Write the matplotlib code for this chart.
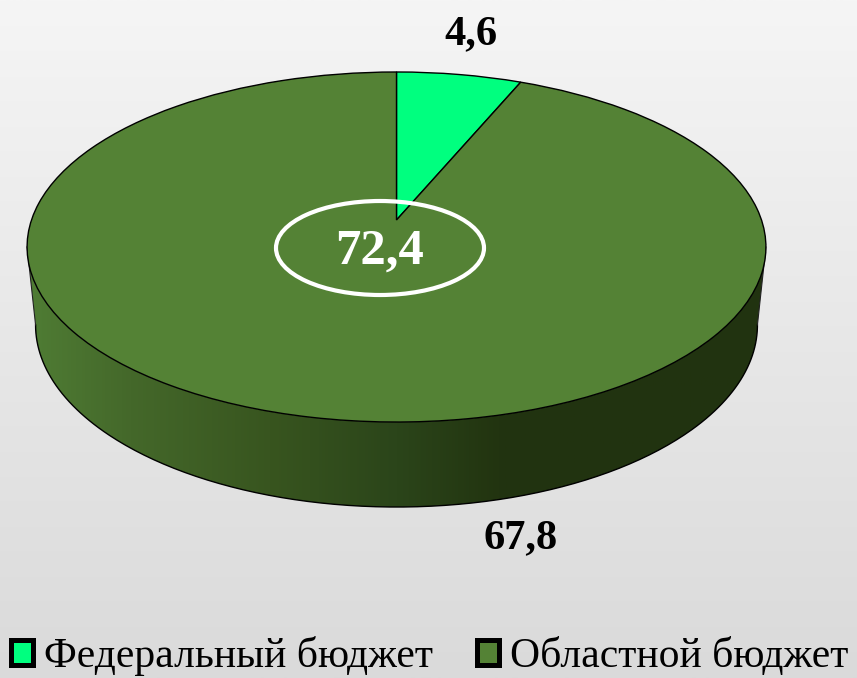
import numpy as np
import matplotlib
matplotlib.use("Agg")
import matplotlib.pyplot as plt
from matplotlib.patches import Ellipse, Patch, Polygon
from matplotlib.transforms import Transform
from matplotlib.colors import LinearSegmentedColormap

categories = ["Федеральный бюджет", "Областной бюджет"]
values = [4.6, 67.8]
total_label = "72,4"
value_labels = ["4,6", "67,8"]
colors = ["#00FF7F", "#548235"]

W, H = 857, 678
plt.rcParams["font.family"] = ["Liberation Serif", "DejaVu Serif"]

# Perspective view of the unit disc, expressed in figure pixels
C, YA, YB, XC, XA = 0.1543, -136.9, 220.0, 396.5, 365.0


class Tilt(Transform):
    input_dims = 2
    output_dims = 2

    def transform_non_affine(self, pts):
        pts = np.asarray(pts, float)
        d = C * pts[:, 1] + 1
        return np.column_stack([XC + XA * pts[:, 0] / d, (YA * pts[:, 1] + YB) / d])


def bottom(xy):
    return np.column_stack([XC + (xy[:, 0] - XC) * 0.977, 325 + 1.04 * (xy[:, 1] - 247)])


fig = plt.figure(figsize=(W / 100, H / 100), dpi=100)
ax = fig.add_axes([0, 0, 1, 1])

wedges, _ = ax.pie(values, colors=colors, startangle=90, counterclock=False,
                   wedgeprops=dict(edgecolor="black", linewidth=1.0, zorder=5))
tilt = Tilt()
for w in wedges:
    w.set_transform(tilt + ax.transData)
    w.set_clip_on(False)

ax.set_aspect("auto")
ax.axis("off")

# background gradient
bg = LinearSegmentedColormap.from_list("bg", ["#f5f5f5", "#dadada"])
ax.imshow(np.linspace(0, 1, 256)[:, None], cmap=bg, extent=[0, W, H, 0], aspect="auto", zorder=0)

# side wall: horizontal gradient clipped to the wall outline
a0 = np.arcsin(C)
th = np.linspace(np.pi + a0, 2 * np.pi - a0, 260)
unit = np.column_stack([np.cos(th), np.sin(th)])
top_edge = tilt.transform(unit)
bot_edge = bottom(top_edge)
stops = [0, 100 / 740, 240 / 740, 367 / 740, 470 / 740, 1]
shades = ["#4f7c34", "#44682a", "#38551f", "#2b451a", "#223410", "#213310"]
side_cmap = LinearSegmentedColormap.from_list("side", list(zip(stops, shades)))
wall = Polygon(np.vstack([top_edge, bot_edge[::-1]]), closed=True, transform=ax.transData,
               facecolor="none", edgecolor="none")
ax.add_patch(wall)
img = ax.imshow(np.linspace(0, 1, 512)[None, :], cmap=side_cmap, extent=[30, 770, 520, 230],
                aspect="auto", zorder=2)
img.set_clip_path(wall)
ax.plot(bot_edge[:, 0], bot_edge[:, 1], color="black", lw=1.0, zorder=3)
ax.plot([top_edge[0, 0], bot_edge[0, 0]], [top_edge[0, 1], bot_edge[0, 1]], color="#222222", lw=0.8, zorder=3)
ax.plot([top_edge[-1, 0], bot_edge[-1, 0]], [top_edge[-1, 1], bot_edge[-1, 1]], color="#222222", lw=0.8, zorder=3)

ax.set_xlim(0, W)
ax.set_ylim(H, 0)

# labels
ax.text(471, 34, value_labels[0], fontsize=30.5, fontweight="bold", ha="center", va="center", zorder=7)
ax.text(521, 538, value_labels[1], fontsize=30.5, fontweight="bold", ha="center", va="center", zorder=7)
ax.text(380, 252, total_label, fontsize=36.5, fontweight="bold", color="white", ha="center", va="center", zorder=7)
ax.add_patch(Ellipse((380, 248), 208, 94, fill=False, edgecolor="white", linewidth=3, zorder=6))

# legend
handles = [Patch(facecolor=c, edgecolor="black", linewidth=3.6, joinstyle="round") for c in colors]
ax.legend(handles, categories, ncol=2, frameon=False, fontsize=30,
          loc="lower left", bbox_to_anchor=(11 / W, 2 / H), borderaxespad=0, borderpad=0,
          handlelength=0.53, handleheight=0.53, handletextpad=0.26, columnspacing=1.05,
          labelcolor="black")

fig.savefig("out.png", dpi=100)
